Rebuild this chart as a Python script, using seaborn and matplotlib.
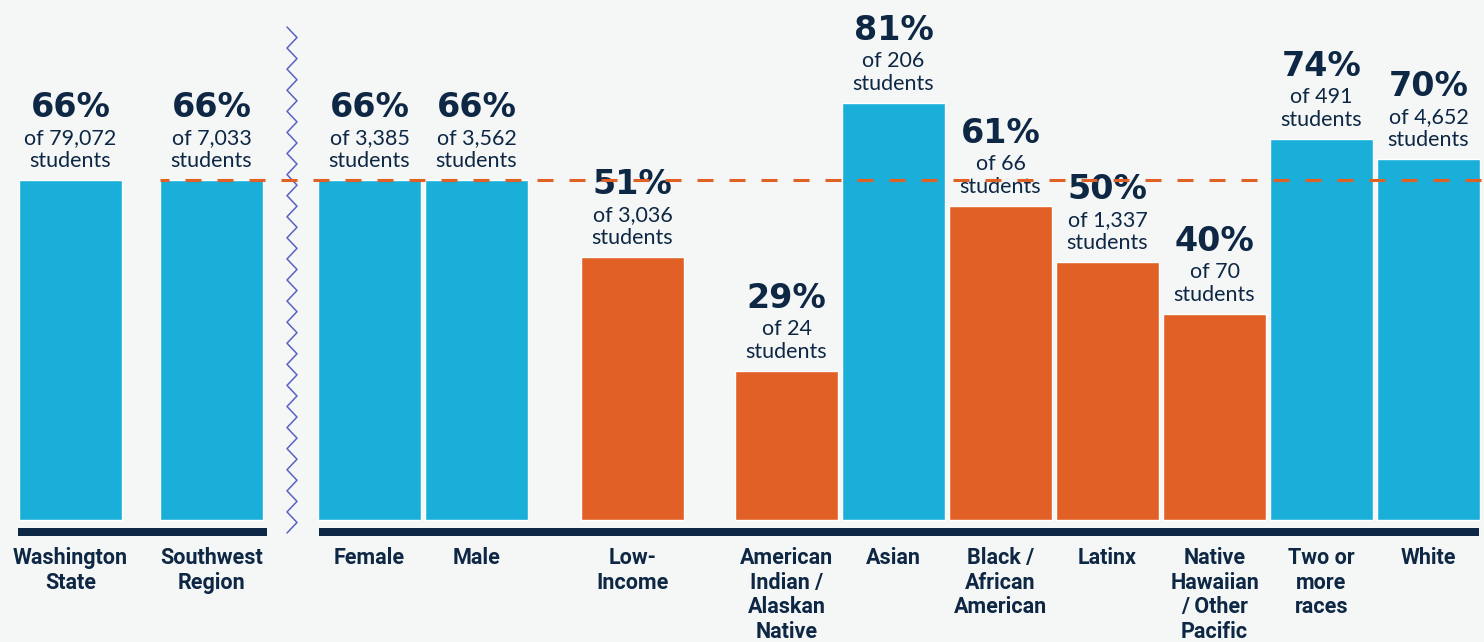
import numpy as np
import pandas as pd
import matplotlib
matplotlib.use("Agg")
import matplotlib.pyplot as plt
import seaborn as sns
from matplotlib import font_manager

# ---------------- data ----------------
categories = ["Washington\nState", "Southwest\nRegion", "Female", "Male",
              "Low-\nIncome", "American\nIndian /\nAlaskan\nNative", "Asian",
              "Black /\nAfrican\nAmerican", "Latinx",
              "Native\nHawaiian\n/ Other\nPacific", "Two or\nmore\nraces", "White"]
percentages = [66, 66, 66, 66, 51, 29, 81, 61, 50, 40, 74, 70]
student_counts = ["79,072", "7,033", "3,385", "3,562", "3,036", "24", "206",
                  "66", "1,337", "70", "491", "4,652"]
state_average = 66

# ---------------- layout ----------------
first_center = 70.5
spacing = [141, 158, 107, 156, 154, 107, 107, 107, 107, 107, 107]
positions = list(np.cumsum([first_center] + spacing))
bar_width_px = 103
W, H = 1484, 642
base_px = 520
px_per_unit = 340 / 66.0

BLUE = "#19afd9"
ORANGE = "#e06026"
NAVY = "#0d2744"
BG = "#f5f7f6"
ZIG = "#5a62c4"

def ydata(p):
    return (base_px - p) / px_per_unit

avail = {f.name for f in font_manager.fontManager.ttflist}
label_font = "Roboto" if "Roboto" in avail else "DejaVu Sans"
small_font = "Lato" if "Lato" in avail else "DejaVu Sans"

sns.set_theme(style="white")
plt.rcParams["lines.scale_dashes"] = False
plt.rcParams["font.family"] = ["DejaVu Sans"]

df = pd.DataFrame({
    "pos": positions,
    "pct": percentages,
    "group": ["above" if p >= state_average else "below" for p in percentages],
})

fig = plt.figure(figsize=(W / 100, H / 100), dpi=100, facecolor=BG)
ax = fig.add_axes([0, 0, 1, 1])
ax.set_facecolor(BG)

sns.barplot(data=df, x="pos", y="pct", hue="group",
            palette={"above": BLUE, "below": ORANGE},
            native_scale=True, dodge=False, width=bar_width_px / 107.0,
            legend=False, saturation=1, ax=ax, zorder=2)

ax.set_xlim(0, W)
ax.set_ylim(ydata(H), ydata(0))
ax.axis("off")

# baseline segments
ylb = ydata(532)
ax.plot([18, 267], [ylb, ylb], color=NAVY, lw=8 * 0.72, solid_capstyle="butt", zorder=3)
ax.plot([319, 1479], [ylb, ylb], color=NAVY, lw=8 * 0.72, solid_capstyle="butt", zorder=3)

# axis break zigzag
n_half = 48
zy = np.linspace(ydata(27), ydata(533), n_half + 1)
zx = np.where(np.arange(n_half + 1) % 2 == 0, 287, 297)
ax.plot(zx, zy, color=ZIG, lw=1.1, zorder=3)

# state average dashed line
ax.plot([160, W], [state_average, state_average], color=ORANGE, lw=2.2,
        linestyle=(7 * 0.72, (16 * 0.72, 16 * 0.72)), dash_capstyle="butt", zorder=5)

# value labels
for x, p, n in zip(positions, percentages, student_counts):
    ax.annotate(f"{p}%", (x, p), xytext=(0, 63), textcoords="offset pixels",
                ha="center", va="baseline", fontsize=24, fontweight="bold",
                family="DejaVu Sans", color=NAVY, zorder=4)
    ax.annotate(f"of {n}", (x, p), xytext=(0, 36), textcoords="offset pixels",
                ha="center", va="baseline", fontsize=15.5,
                family=small_font, color=NAVY, zorder=4)
    ax.annotate("students", (x, p), xytext=(0, 13), textcoords="offset pixels",
                ha="center", va="baseline", fontsize=15.5,
                family=small_font, color=NAVY, zorder=4)

# category labels
for x, c in zip(positions, categories):
    ax.text(x, ydata(547), c, ha="center", va="top", fontsize=15.5,
            fontweight="bold", family=label_font, color=NAVY,
            linespacing=1.15, zorder=4)

fig.savefig("out.png", dpi=100, facecolor=BG)
